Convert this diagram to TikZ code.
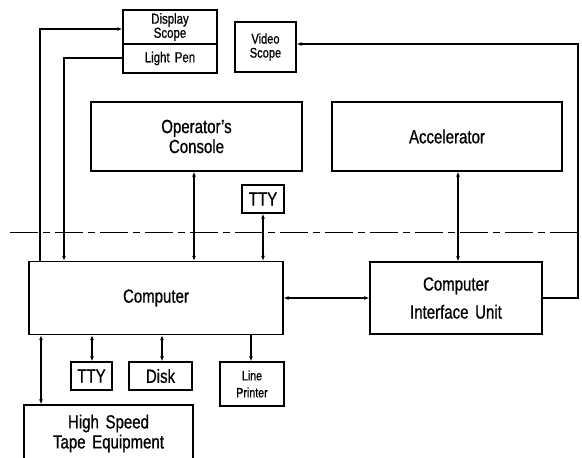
\documentclass[tikz,border=0pt]{standalone}
\usepackage{fontspec}
\setmainfont[FakeStretch=0.79,FakeBold=0.8,WordSpace=1.6]{Liberation Sans}
\usetikzlibrary{arrows.meta}
\tikzset{
  blk/.style={draw, line width=1.3pt, rectangle, inner sep=0pt, align=center},
  big/.style={font=\fontsize{19}{20}\selectfont},
  sml/.style={font=\fontsize{14.5}{11}\selectfont},
  conn/.style={line width=1.2pt},
  one/.style={conn, -{Latex[length=5pt,width=4pt]}},
  two/.style={conn, {Latex[length=5pt,width=4pt]}-{Latex[length=5pt,width=4pt]}},
  sep/.style={line width=1pt, dash pattern=on 28pt off 5pt on 7pt off 5pt}
}
\begin{document}
\begin{tikzpicture}[x=1pt,y=-1pt]
\useasboundingbox (0,0) rectangle (582,458);
% boxes
\node[blk,sml,minimum width=94pt,minimum height=34pt] (ds) at (170,27) {Display\\Scope};
\node[blk,sml,minimum width=94pt,minimum height=29pt] (lp) at (170,58.5) {Light Pen};
\node[blk,minimum width=61pt,minimum height=50pt,font=\fontsize{14}{14}\selectfont] (vs) at (265.5,47) {Video\\Scope};
\node[blk,big,minimum width=211pt,minimum height=69pt] (oc) at (196.5,136.5) {Operator's\\Console};
\node[blk,big,minimum width=230pt,minimum height=69pt] (acc) at (447,136.5) {Accelerator};
\node[blk,big,minimum width=42pt,minimum height=28pt] (tty1) at (263,199) {TTY};
\node[blk,big,minimum width=254pt,minimum height=73pt] (comp) at (156,298) {Computer};
\node[blk,big,minimum width=172pt,minimum height=72pt] (ciu) at (456,298) {Computer\\[8pt]Interface Unit};
\node[blk,big,minimum width=41pt,minimum height=28pt] (tty2) at (91.5,376) {TTY};
\node[blk,big,minimum width=63pt,minimum height=28pt] (disk) at (160.5,376) {Disk};
\node[blk,minimum width=64pt,minimum height=44pt,font=\fontsize{13.5}{17}\selectfont] (lpr) at (252,384) {Line\\Printer};
\node[blk,big,minimum width=169pt,minimum height=57pt] (hst) at (108.5,433.5) {High Speed\\Tape Equipment};
% boundary line
\coordinate (sl) at (10,232);
\coordinate (sr) at (582,232);
\draw[sep] (sl) -- (sr);
% connectors
\coordinate (k1) at (40,29);
\draw[one] (comp.north -| k1) -- (k1) -- (k1 -| ds.west);
\coordinate (k2) at (64,58);
\draw[one] (k2 -| lp.west) -- (k2) -- (comp.north -| k2);
\coordinate (k3) at (578,44);
\draw[one] (ciu.east) -- (ciu.east -| k3) -- (k3) -- (k3 -| vs.east);
\coordinate (x1) at (194,0);
\draw[two] (oc.south -| x1) -- (comp.north -| x1);
\coordinate (x2) at (263,0);
\draw[two] (tty1.south) -- (comp.north -| x2);
\coordinate (x3) at (458,0);
\draw[two] (acc.south -| x3) -- (ciu.north -| x3);
\draw[two] (comp.east) -- (ciu.west);
\coordinate (x4) at (92,0);
\draw[two] (comp.south -| x4) -- (tty2.north -| x4);
\coordinate (x5) at (162,0);
\draw[two] (comp.south -| x5) -- (disk.north -| x5);
\coordinate (x6) at (251,0);
\draw[one] (comp.south -| x6) -- (lpr.north -| x6);
\coordinate (x7) at (41,0);
\draw[two] (comp.south -| x7) -- (hst.north -| x7);
\end{tikzpicture}
\end{document}
